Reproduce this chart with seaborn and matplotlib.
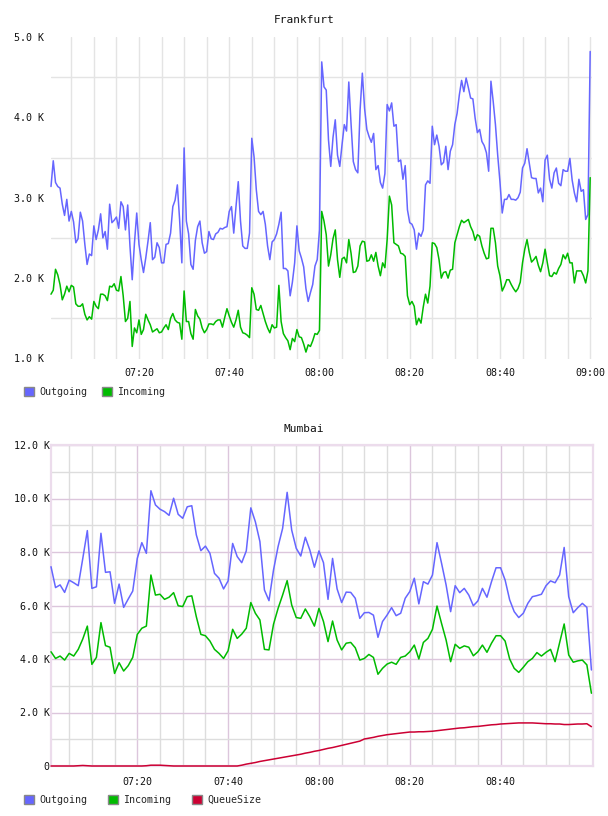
import numpy as np
import pandas as pd
import seaborn as sns
import matplotlib.pyplot as plt
from matplotlib.patches import Patch
from matplotlib.ticker import FuncFormatter

# ---- Frankfurt: samples every 30 s, minutes after 07:00, values in K ----
fra_minutes = np.arange(1, 241) * 0.5
fra_outgoing = [
    3.14, 3.46, 3.19, 3.14, 3.12, 2.92, 2.78, 2.98, 2.71, 2.83,
    2.70, 2.44, 2.49, 2.82, 2.71, 2.42, 2.17, 2.30, 2.28, 2.65,
    2.48, 2.60, 2.80, 2.50, 2.58, 2.36, 2.92, 2.69, 2.72, 2.76,
    2.62, 2.95, 2.89, 2.60, 2.91, 2.40, 1.98, 2.44, 2.81, 2.42,
    2.23, 2.07, 2.25, 2.46, 2.69, 2.23, 2.26, 2.44, 2.38, 2.19,
    2.19, 2.42, 2.43, 2.56, 2.89, 2.97, 3.16, 2.73, 2.19, 3.62,
    2.71, 2.55, 2.17, 2.11, 2.47, 2.64, 2.71, 2.44, 2.31, 2.33,
    2.58, 2.49, 2.48, 2.55, 2.57, 2.62, 2.61, 2.63, 2.64, 2.83,
    2.89, 2.56, 2.89, 3.20, 2.71, 2.40, 2.37, 2.37, 2.56, 3.74,
    3.51, 3.10, 2.83, 2.79, 2.83, 2.67, 2.40, 2.23, 2.45, 2.48,
    2.55, 2.67, 2.82, 2.12, 2.12, 2.09, 1.78, 1.95, 2.19, 2.65,
    2.34, 2.25, 2.14, 1.87, 1.71, 1.82, 1.92, 2.15, 2.23, 2.60,
    4.69, 4.38, 4.34, 3.72, 3.39, 3.75, 3.97, 3.53, 3.39, 3.66,
    3.91, 3.83, 4.44, 3.92, 3.45, 3.35, 3.31, 4.09, 4.55, 4.11,
    3.85, 3.76, 3.69, 3.80, 3.35, 3.40, 3.19, 3.12, 3.30, 4.16,
    4.08, 4.18, 3.89, 3.91, 3.45, 3.47, 3.23, 3.40, 2.85, 2.69,
    2.67, 2.60, 2.36, 2.56, 2.52, 2.60, 3.16, 3.21, 3.18, 3.89,
    3.66, 3.78, 3.64, 3.41, 3.44, 3.64, 3.35, 3.58, 3.66, 3.91,
    4.05, 4.28, 4.46, 4.32, 4.49, 4.37, 4.24, 4.23, 3.99, 3.81,
    3.85, 3.70, 3.65, 3.56, 3.33, 4.45, 4.20, 3.91, 3.53, 3.20,
    2.81, 2.98, 2.98, 3.04, 2.98, 2.98, 2.97, 3.00, 3.07, 3.37,
    3.43, 3.61, 3.43, 3.25, 3.24, 3.24, 3.06, 3.12, 2.95, 3.47,
    3.53, 3.23, 3.12, 3.31, 3.37, 3.18, 3.15, 3.35, 3.33, 3.33,
    3.49, 3.22, 3.06, 2.95, 3.23, 3.08, 3.10, 2.73, 2.79, 4.82,
]
fra_incoming = [
    1.80, 1.85, 2.11, 2.04, 1.92, 1.73, 1.80, 1.90, 1.83, 1.91,
    1.89, 1.68, 1.65, 1.65, 1.68, 1.55, 1.48, 1.52, 1.49, 1.71,
    1.65, 1.62, 1.80, 1.80, 1.78, 1.72, 1.90, 1.89, 1.93, 1.85,
    1.84, 2.02, 1.78, 1.46, 1.50, 1.71, 1.15, 1.38, 1.32, 1.48,
    1.30, 1.36, 1.55, 1.48, 1.42, 1.33, 1.35, 1.37, 1.32, 1.33,
    1.38, 1.42, 1.36, 1.50, 1.56, 1.48, 1.45, 1.44, 1.24, 1.84,
    1.46, 1.46, 1.31, 1.24, 1.61, 1.53, 1.49, 1.38, 1.32, 1.36,
    1.43, 1.43, 1.42, 1.46, 1.48, 1.48, 1.39, 1.51, 1.62, 1.53,
    1.45, 1.39, 1.48, 1.60, 1.39, 1.32, 1.31, 1.29, 1.26, 1.88,
    1.80, 1.61, 1.60, 1.66, 1.56, 1.46, 1.38, 1.32, 1.42, 1.38,
    1.39, 1.91, 1.46, 1.31, 1.26, 1.22, 1.11, 1.25, 1.21, 1.36,
    1.27, 1.26, 1.18, 1.08, 1.17, 1.15, 1.22, 1.31, 1.30, 1.35,
    2.83, 2.71, 2.54, 2.15, 2.29, 2.49, 2.60, 2.23, 2.01, 2.24,
    2.26, 2.19, 2.48, 2.31, 2.07, 2.08, 2.15, 2.40, 2.46, 2.45,
    2.21, 2.22, 2.29, 2.21, 2.32, 2.15, 2.03, 2.19, 2.13, 2.48,
    3.02, 2.91, 2.44, 2.42, 2.40, 2.31, 2.30, 2.27, 1.78, 1.67,
    1.71, 1.65, 1.42, 1.50, 1.44, 1.64, 1.80, 1.69, 1.90, 2.44,
    2.43, 2.38, 2.23, 2.00, 2.07, 2.08, 2.00, 2.10, 2.11, 2.44,
    2.54, 2.64, 2.72, 2.69, 2.71, 2.73, 2.64, 2.58, 2.47, 2.54,
    2.52, 2.40, 2.31, 2.24, 2.25, 2.62, 2.62, 2.44, 2.15, 2.03,
    1.84, 1.90, 1.98, 1.98, 1.92, 1.87, 1.83, 1.87, 1.95, 2.19,
    2.36, 2.48, 2.32, 2.20, 2.23, 2.27, 2.16, 2.08, 2.19, 2.36,
    2.19, 2.03, 2.02, 2.07, 2.05, 2.12, 2.17, 2.29, 2.24, 2.31,
    2.19, 2.19, 1.94, 2.09, 2.09, 2.09, 2.03, 1.94, 2.09, 3.25,
]

# ---- Mumbai: samples every minute, minutes after 07:00, values in K ----
mum_minutes = np.arange(1, 121)
mum_outgoing = [
    7.45, 6.67, 6.77, 6.49, 6.95, 6.85, 6.74, 7.76, 8.80, 6.64,
    6.70, 8.70, 7.24, 7.26, 6.08, 6.80, 5.93, 6.24, 6.54, 7.76,
    8.35, 7.95, 10.29, 9.76, 9.60, 9.51, 9.37, 10.01, 9.41, 9.26,
    9.69, 9.73, 8.64, 8.05, 8.22, 7.95, 7.20, 7.02, 6.62, 6.92,
    8.32, 7.83, 7.60, 8.04, 9.65, 9.13, 8.39, 6.58, 6.18, 7.33,
    8.20, 8.88, 10.23, 8.82, 8.14, 7.85, 8.55, 8.07, 7.43, 8.04,
    7.60, 6.23, 7.76, 6.62, 6.11, 6.50, 6.49, 6.27, 5.52, 5.73,
    5.74, 5.64, 4.81, 5.40, 5.64, 5.92, 5.62, 5.71, 6.27, 6.52,
    7.02, 6.06, 6.89, 6.80, 7.14, 8.35, 7.58, 6.77, 5.77, 6.74,
    6.48, 6.64, 6.39, 5.99, 6.17, 6.64, 6.31, 6.89, 7.41, 7.41,
    6.95, 6.21, 5.77, 5.55, 5.71, 6.08, 6.33, 6.37, 6.42, 6.74,
    6.92, 6.85, 7.14, 8.17, 6.33, 5.73, 5.92, 6.08, 5.93, 3.59,
]
mum_incoming = [
    4.27, 4.02, 4.11, 3.96, 4.21, 4.11, 4.36, 4.75, 5.23, 3.80,
    4.06, 5.36, 4.50, 4.44, 3.46, 3.86, 3.55, 3.75, 4.06, 4.92,
    5.15, 5.23, 7.14, 6.39, 6.42, 6.23, 6.31, 6.48, 5.99, 5.96,
    6.33, 6.36, 5.58, 4.92, 4.87, 4.67, 4.36, 4.21, 4.02, 4.31,
    5.11, 4.77, 4.93, 5.15, 6.11, 5.71, 5.46, 4.36, 4.34, 5.30,
    5.89, 6.39, 6.93, 6.02, 5.55, 5.52, 5.87, 5.58, 5.23, 5.89,
    5.40, 4.65, 5.42, 4.71, 4.34, 4.59, 4.62, 4.42, 3.96, 4.02,
    4.17, 4.06, 3.43, 3.65, 3.81, 3.88, 3.80, 4.06, 4.11, 4.27,
    4.52, 4.00, 4.62, 4.77, 5.11, 5.98, 5.33, 4.71, 3.90, 4.55,
    4.40, 4.49, 4.44, 4.12, 4.27, 4.52, 4.25, 4.59, 4.87, 4.87,
    4.67, 4.00, 3.65, 3.50, 3.69, 3.90, 4.02, 4.24, 4.11, 4.25,
    4.36, 3.90, 4.61, 5.31, 4.15, 3.88, 3.93, 3.96, 3.78, 2.72,
]
mum_queue = [
    0, 0, 0, 0, 0, 0, 0.01, 0.02, 0.01, 0,
    0, 0, 0, 0, 0, 0, 0, 0, 0, 0,
    0, 0.01, 0.03, 0.03, 0.03, 0.02, 0.01, 0, 0, 0,
    0, 0, 0, 0, 0, 0, 0, 0, 0, 0,
    0, 0, 0.03, 0.07, 0.10, 0.13, 0.17, 0.20, 0.23, 0.26,
    0.29, 0.32, 0.35, 0.38, 0.41, 0.44, 0.48, 0.51, 0.55, 0.58,
    0.62, 0.66, 0.69, 0.73, 0.77, 0.81, 0.85, 0.89, 0.93, 1.01,
    1.04, 1.07, 1.11, 1.14, 1.17, 1.19, 1.21, 1.23, 1.25, 1.27,
    1.27, 1.28, 1.28, 1.29, 1.30, 1.32, 1.34, 1.36, 1.38, 1.40,
    1.42, 1.43, 1.45, 1.47, 1.48, 1.50, 1.52, 1.54, 1.55, 1.57,
    1.58, 1.59, 1.60, 1.61, 1.61, 1.61, 1.61, 1.60, 1.59, 1.58,
    1.58, 1.57, 1.57, 1.55, 1.55, 1.56, 1.57, 1.57, 1.58, 1.47,
]

time_ticks = [20, 40, 60, 80, 100, 120]
time_labels = ["07:20", "07:40", "08:00", "08:20", "08:40", "09:00"]

COLORS = {"Outgoing": "#6666ff", "Incoming": "#00bb00", "QueueSize": "#cc0033"}
MONO = "DejaVu Sans Mono"
FS = 7.2

sns.set_style("white")
plt.rcParams["font.family"] = [MONO, "DejaVu Sans"]

W, H = 608, 816
fig = plt.figure(figsize=(W / 100, H / 100), dpi=100)


def px_axes(x0, y0, x1, y1):
    return fig.add_axes([x0 / W, 1 - y1 / H, (x1 - x0) / W, (y1 - y0) / H])


def k_fmt(v, _):
    return "0" if abs(v) < 1e-9 else f"{v:.1f} K"


def draw_lines(ax, df):
    for name in df["series"].unique():
        sns.lineplot(data=df[df["series"] == name], x="minute", y="value",
                     color=COLORS[name], lw=1.1, estimator=None, ax=ax,
                     legend=False, zorder=3, clip_on=False)


def add_legend(ax, names, y_px, spacing):
    handles = [Patch(facecolor=COLORS[n], edgecolor="#888888", lw=1, label=n)
               for n in names]
    ax.legend(handles=handles, loc="center left",
              bbox_to_anchor=(24 / W, 1 - y_px / H),
              bbox_transform=fig.transFigure, ncol=len(names), frameon=False,
              handlelength=1.0, handleheight=1.0, handletextpad=0.5,
              columnspacing=spacing, borderpad=0, borderaxespad=0,
              prop={"family": MONO, "size": FS})


# ---- Frankfurt ----
fra = pd.concat([
    pd.DataFrame({"minute": fra_minutes, "value": fra_outgoing, "series": "Outgoing"}),
    pd.DataFrame({"minute": fra_minutes, "value": fra_incoming, "series": "Incoming"}),
])
ax1 = px_axes(51, 37, 592, 358.5)
draw_lines(ax1, fra)
ax1.set_xlim(0.5, 120.4)
ax1.set_ylim(1.0, 5.0)
ax1.set_xticks(time_ticks)
ax1.set_xticklabels(time_labels)
ax1.set_xticks([m for m in range(5, 121, 5) if m % 20], minor=True)
ax1.set_yticks([1, 2, 3, 4, 5])
ax1.set_yticks([1.5, 2.5, 3.5, 4.5], minor=True)
ax1.yaxis.set_major_formatter(FuncFormatter(k_fmt))
ax1.grid(False)
ax1.grid(True, axis="x", which="both", color="#e4e4e4", lw=1)
ax1.grid(True, axis="y", which="minor", color="#e4e4e4", lw=1)
ax1.set_axisbelow(True)
for s in ax1.spines.values():
    s.set_visible(False)
ax1.tick_params(which="both", length=0, labelsize=FS, colors="#111111")
ax1.tick_params(axis="y", pad=5)
ax1.tick_params(axis="x", pad=7)
ax1.set_xlabel("")
ax1.set_ylabel("")
fig.text(0.5, 1 - 20 / H, "Frankfurt", ha="center", va="center",
         fontsize=8, family=MONO, color="#111111")
add_legend(ax1, ["Outgoing", "Incoming"], 392, 1.5)

# ---- Mumbai ----
mum = pd.concat([
    pd.DataFrame({"minute": mum_minutes, "value": mum_outgoing, "series": "Outgoing"}),
    pd.DataFrame({"minute": mum_minutes, "value": mum_incoming, "series": "Incoming"}),
    pd.DataFrame({"minute": mum_minutes, "value": mum_queue, "series": "QueueSize"}),
])
ax2 = px_axes(51, 445, 593, 766)
draw_lines(ax2, mum)
ax2.set_xlim(1.0, 120.35)
ax2.set_ylim(0, 12.0)
ax2.set_xticks(time_ticks[:-1])
ax2.set_xticklabels(time_labels[:-1])
ax2.set_xticks([m for m in range(5, 121, 5) if m % 20], minor=True)
ax2.set_yticks(np.arange(0, 13, 2))
ax2.set_yticks(np.arange(1, 12, 2), minor=True)
ax2.yaxis.set_major_formatter(FuncFormatter(k_fmt))
ax2.grid(True, which="major", color="#dcc6dc", lw=1)
ax2.grid(True, which="minor", color="#dddddd", lw=1)
ax2.set_axisbelow(True)
for s in ax2.spines.values():
    s.set_color("#ecdcec")
    s.set_linewidth(1.6)
ax2.tick_params(which="both", length=0, labelsize=FS, colors="#111111")
ax2.tick_params(axis="y", pad=1)
ax2.tick_params(axis="x", pad=8)
ax2.set_xlabel("")
ax2.set_ylabel("")
fig.text(0.5, 1 - 429 / H, "Mumbai", ha="center", va="center",
         fontsize=8, family=MONO, color="#111111")
add_legend(ax2, ["Outgoing", "Incoming", "QueueSize"], 800, 2.1)

fig.savefig("out.png", dpi=100)
